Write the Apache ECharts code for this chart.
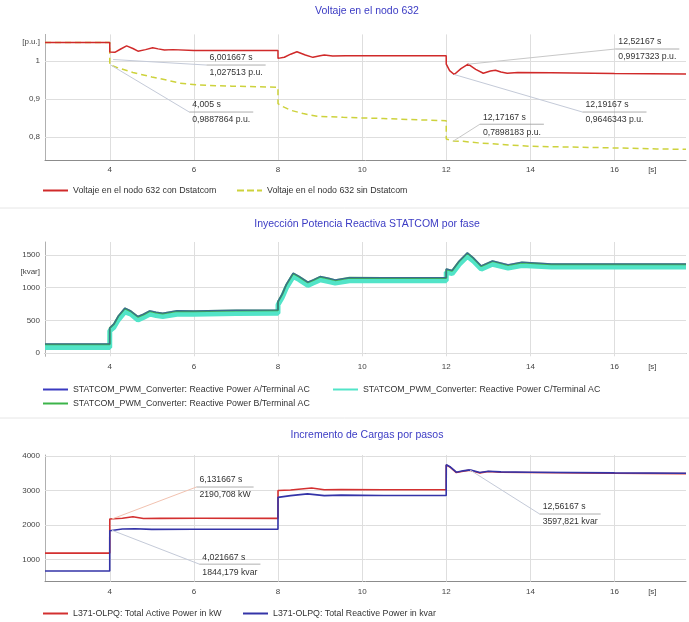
<!DOCTYPE html>
<html><head><meta charset="utf-8">
<script src="https://cdn.jsdelivr.net/npm/echarts@6/dist/echarts.min.js"></script>
<style>html,body{margin:0;padding:0;background:#fff}#c{width:689px;height:622px}</style>
</head><body><div id="c"></div>
<script>
// ---------- Data: Voltaje en el nodo 632 ----------
const voltConT = [2.46, 3.999, 4.0, 4.12, 4.25, 4.4, 4.55, 4.67, 4.85, 5.02, 5.15, 5.3, 5.5, 6.0, 7.0, 7.999, 8.0, 8.15, 8.3, 8.45, 8.65, 8.83, 9.0, 9.1, 9.3, 9.6, 10.5, 11.999, 12.0, 12.08, 12.19, 12.35, 12.52, 12.7, 12.88, 13.05, 13.17, 13.3, 13.45, 13.7, 14.5, 16, 17.7];
const voltConV = [1.049, 1.049, 1.024, 1.023, 1.031, 1.040, 1.033, 1.026, 1.030, 1.035, 1.032, 1.029, 1.030, 1.0275, 1.028, 1.028, 1.007, 1.010, 1.018, 1.0245, 1.016, 1.0097, 1.014, 1.016, 1.013, 1.014, 1.014, 1.014, 0.992, 0.975, 0.9646, 0.980, 0.9917, 0.978, 0.968, 0.974, 0.976, 0.971, 0.968, 0.970, 0.969, 0.967, 0.966];
const voltSinT = [2.46, 3.999, 4.0, 4.005, 4.2, 4.55, 5.0, 5.35, 5.67, 6.1, 6.9, 7.999, 8.0, 8.05, 8.29, 8.6, 8.93, 9.55, 10.5, 11.999, 12.0, 12.17, 12.4, 12.76, 13.3, 14, 15, 15.9, 17, 17.7];
const voltSinV = [1.049, 1.049, 0.990, 0.9888, 0.982, 0.970, 0.958, 0.950, 0.942, 0.937, 0.934, 0.931, 0.888, 0.884, 0.871, 0.862, 0.855, 0.852, 0.849, 0.843, 0.795, 0.7898, 0.789, 0.785, 0.781, 0.776, 0.774, 0.772, 0.769, 0.768];

// ---------- Data: STATCOM reactive power per phase ----------
const qT = [2.46, 3.999, 4.0, 4.1, 4.2, 4.36, 4.5, 4.67, 4.8, 4.95, 5.1, 5.26, 5.6, 6.0, 7.0, 7.999, 8.0, 8.1, 8.2, 8.36, 8.5, 8.71, 8.85, 9.0, 9.2, 9.36, 9.7, 10.5, 11.999, 12.0, 12.14, 12.3, 12.5, 12.65, 12.83, 13.1, 13.47, 13.8, 14.5, 16, 17.7];
const qPhaseA = [140, 140, 385, 448, 565, 690, 645, 560, 595, 648, 625, 612, 648, 646, 655, 660, 790, 905, 1055, 1225, 1175, 1086, 1126, 1172, 1146, 1121, 1156, 1156, 1156, 1290, 1266, 1405, 1536, 1455, 1336, 1412, 1352, 1392, 1366, 1365, 1365];
const qPhaseB = [135, 135, 382, 443, 560, 683, 640, 555, 590, 642, 620, 607, 642, 640, 650, 655, 785, 900, 1050, 1219, 1170, 1081, 1120, 1167, 1140, 1116, 1151, 1150, 1150, 1284, 1261, 1400, 1530, 1450, 1330, 1407, 1346, 1387, 1361, 1360, 1360];
const qPhaseC = [85, 85, 340, 395, 505, 630, 595, 505, 545, 595, 575, 560, 595, 595, 605, 610, 740, 850, 1000, 1170, 1125, 1035, 1075, 1120, 1095, 1070, 1105, 1105, 1105, 1240, 1215, 1350, 1480, 1405, 1285, 1360, 1300, 1340, 1318, 1318, 1318];

// ---------- Data: Incremento de cargas ----------
const pT = [2.46, 3.999, 4.0, 4.3, 4.55, 4.8, 5.2, 6.13, 7.999, 8.0, 8.3, 8.8, 9.1, 9.5, 10.5, 11.999, 12.0, 12.1, 12.24, 12.4, 12.56, 12.8, 13.0, 13.3, 14, 16, 17.7];
const pKW = [1180, 1180, 2170, 2195, 2235, 2185, 2190, 2191, 2190, 3000, 3015, 3070, 3020, 3030, 3020, 3020, 3740, 3670, 3520, 3560, 3590, 3510, 3550, 3530, 3520, 3500, 3490];
const qLT = [2.46, 3.999, 4.0, 4.021, 4.3, 4.6, 5.0, 6.0, 7.999, 8.0, 8.3, 8.7, 9.1, 9.5, 10.5, 11.999, 12.0, 12.1, 12.24, 12.4, 12.56, 12.8, 13.0, 13.3, 14, 16, 17.7];
const qLkvar = [660, 660, 1830, 1844, 1880, 1890, 1870, 1875, 1875, 2800, 2850, 2900, 2850, 2865, 2855, 2855, 3750, 3680, 3530, 3570, 3598, 3520, 3560, 3540, 3530, 3510, 3500];

// ---------- Tick labels ----------
const xTicks = [4, 6, 8, 10, 12, 14, 16];
const xUnit = {at: 16.9, text: '[s]'};
const topYTicks = [[0.8, '0,8'], [0.9, '0,9'], [1.0, '1'], [1.05, '[p.u.]']];
const midYTicks = [[0, '0'], [500, '500'], [1000, '1000'], [1500, '1500'], [1250, '[kvar]']];
const botYTicks = [[1000, '1000'], [2000, '2000'], [3000, '3000'], [4000, '4000']];
const topGridY = [0.8, 0.9, 1.0];
const midGridY = [0, 500, 1000, 1500];
const botGridY = [1000, 2000, 3000, 4000];

// ---------- Value labels (text), their points and label anchors ----------
const noteText = [
  ['6,001667 s', '1,027513 p.u.'],
  ['4,005 s', '0,9887864 p.u.'],
  ['12,52167 s', '0,9917323 p.u.'],
  ['12,19167 s', '0,9646343 p.u.'],
  ['12,17167 s', '0,7898183 p.u.'],
  ['6,131667 s', '2190,708 kW'],
  ['4,021667 s', '1844,179 kvar'],
  ['12,56167 s', '3597,821 kvar']
];
const notePoint = [[4.08, 1.004], [4.03, 0.989], [12.52, 0.9917], [12.19, 0.9646], [12.17, 0.7898], [4.05, 2170], [4.05, 1844], [12.56, 3598]];
const noteAnchor = [[6.30, 0.9895], [5.89, 0.866], [16.02, 1.0316], [15.24, 0.866], [12.80, 0.834], [6.06, 3100], [6.13, 860], [14.22, 2316]];
const noteGrid = [0, 0, 0, 0, 0, 2, 2, 2];
const noteColor = ['#c4cad8', '#c4cad8', '#c8c8c8', '#c4cad8', '#c8c8c8', '#f2c2b0', '#c4cad8', '#c4cad8'];

// ---------- Chart ----------
const FONT = '"Liberation Sans", Arial, sans-serif';
const NOTE_FONT = '8.7px "Liberation Sans", Arial, sans-serif';
const chart = echarts.init(document.getElementById('c'), null, {renderer: 'canvas'});
const zip = (t, v) => t.map((x, i) => [x, v[i]]);
const near = (a, b) => Math.abs(a - b) < 1e-6;

function xFmt(v) {
  for (const t of xTicks) if (near(v, t)) return String(t);
  if (near(v, xUnit.at)) return xUnit.text;
  return '';
}
function yFmt(list) {
  return v => { for (const [val, txt] of list) if (near(v, val)) return txt; return ''; };
}
const labelStyle = {fontSize: 8, color: '#444', fontFamily: FONT};
function xAx(i) {
  return {type: 'value', gridIndex: i, min: 2.46, max: 17.7, interval: 0.02,
    axisLine: {show: true, lineStyle: {color: '#8c8c8c'}}, axisTick: {show: false}, splitLine: {show: false},
    axisLabel: Object.assign({margin: 6, formatter: xFmt}, labelStyle)};
}
function yAx(i, min, max, interval, ticks) {
  return {type: 'value', gridIndex: i, min, max, interval,
    axisLine: {show: true, lineStyle: {color: '#b0b0b0'}}, axisTick: {show: false}, splitLine: {show: false},
    axisLabel: Object.assign({margin: 5, formatter: yFmt(ticks)}, labelStyle)};
}
function gridLines(i, ys) {
  return {type: 'line', xAxisIndex: i, yAxisIndex: i, data: [], z: 1, silent: true,
    markLine: {silent: true, z: 1, symbol: 'none', animation: false, label: {show: false},
      lineStyle: {color: '#dedede', width: 1, type: 'solid'},
      data: ys.map(y => ({yAxis: y})).concat(xTicks.map(x => ({xAxis: x})))}};
}
function line(name, i, data, color, width, extra) {
  return Object.assign({name, type: 'line', xAxisIndex: i, yAxisIndex: i, data, symbol: 'none', showSymbol: false,
    animation: false, lineStyle: {color, width}, itemStyle: {color}}, extra || {});
}
const titleStyle = {fontSize: 10.5, fontWeight: 'normal', color: '#3b3bc4', fontFamily: FONT};
const SOLID = 'path://M0,0M25,8M0,3h25v2h-25z';
const DASHED = 'path://M0,0M25,8M0,3h7v2h-7zM10,3h7v2h-7zM20,3h5v2h-5z';
const legBase = {padding: 0, itemWidth: 25, itemHeight: 8, itemGap: 0, selectedMode: false,
  textStyle: {fontSize: 8.8, color: '#333', fontFamily: FONT}};
const L = (name, icon, left, top) => Object.assign({data: [{name, icon}], left, top}, legBase);

const N1 = 'Voltaje en el nodo 632 con Dstatcom', N2 = 'Voltaje en el nodo 632 sin Dstatcom';
const NA = 'STATCOM_PWM_Converter: Reactive Power A/Terminal AC';
const NB = 'STATCOM_PWM_Converter: Reactive Power B/Terminal AC';
const NC = 'STATCOM_PWM_Converter: Reactive Power C/Terminal AC';
const NP = 'L371-OLPQ: Total Active Power in kW', NQ = 'L371-OLPQ: Total Reactive Power in kvar';

chart.setOption({
  animation: false,
  backgroundColor: '#fff',
  title: [
    {text: 'Voltaje en el nodo 632', left: 367, top: 6, textAlign: 'center', padding: 0, textStyle: titleStyle},
    {text: 'Inyección Potencia Reactiva STATCOM por fase', left: 367, top: 219, textAlign: 'center', padding: 0, textStyle: titleStyle},
    {text: 'Incremento de Cargas por pasos', left: 367, top: 430, textAlign: 'center', padding: 0, textStyle: titleStyle}
  ],
  grid: [
    {left: 45, right: 0, top: 34.4, bottom: 462},
    {left: 45, right: 0, top: 242, bottom: 265.7},
    {left: 45, right: 0, top: 455, bottom: 40.3}
  ],
  xAxis: [xAx(0), xAx(1), xAx(2)],
  yAxis: [
    yAx(0, 0.74, 1.07, 0.01, topYTicks),
    yAx(1, -50, 1700, 50, midYTicks),
    yAx(2, 350, 4030, 50, botYTicks)
  ],
  legend: [
    L(N1, SOLID, 43, 186), L(N2, DASHED, 237, 186),
    L(NA, SOLID, 43, 385), L(NC, SOLID, 333, 385), L(NB, SOLID, 43, 399),
    L(NP, SOLID, 43, 609), L(NQ, SOLID, 243, 609)
  ],
  series: [
    gridLines(0, topGridY), gridLines(1, midGridY), gridLines(2, botGridY),
    line(N2, 0, zip(voltSinT, voltSinV), '#cdd23c', 1.5, {lineStyle: {color: '#cdd23c', width: 1.5, type: [6, 4]}, z: 3}),
    line(N1, 0, zip(voltConT, voltConV), '#d02a2a', 1.5, {z: 4}),
    line(NC, 1, zip(qT, qPhaseC), '#52e4c8', 5, {z: 3}),
    line(NB, 1, zip(qT, qPhaseB), '#3cb44a', 2, {z: 4}),
    line(NA, 1, zip(qT, qPhaseA), '#3a3ac0', 1.3, {z: 5, lineStyle: {color: '#3a3ac0', width: 1.3, opacity: 0.6}}),
    line(NP, 2, zip(pT, pKW), '#d33030', 1.6, {z: 3}),
    line(NQ, 2, zip(qLT, qLkvar), '#3434a8', 1.6, {z: 4})
  ]
});

// value-label graphics placed through the chart's own coordinate conversion
const ctx = document.createElement('canvas').getContext('2d');
ctx.font = NOTE_FONT;
const graphics = [
  {type: 'line', shape: {x1: 0, y1: 208, x2: 689, y2: 208}, style: {stroke: '#e6e6e6', lineWidth: 1}, silent: true},
  {type: 'line', shape: {x1: 0, y1: 418, x2: 689, y2: 418}, style: {stroke: '#e6e6e6', lineWidth: 1}, silent: true}
];
noteText.forEach((txt, k) => {
  const g = noteGrid[k];
  const p = chart.convertToPixel({gridIndex: g}, notePoint[k]);
  const a = chart.convertToPixel({gridIndex: g}, noteAnchor[k]);
  const w = Math.max(ctx.measureText(txt[0]).width, ctx.measureText(txt[1]).width) + 6;
  graphics.push({type: 'line', z: 10, silent: true, shape: {x1: p[0], y1: p[1], x2: a[0], y2: a[1]}, style: {stroke: noteColor[k], lineWidth: 1}});
  graphics.push({type: 'line', z: 10, silent: true, shape: {x1: a[0], y1: a[1], x2: a[0] + w, y2: a[1]}, style: {stroke: '#9a9a9a', lineWidth: 0.8}});
  graphics.push({type: 'text', z: 11, silent: true, x: a[0] + 3, y: a[1] - 7, style: {text: txt[0], fill: '#333', font: NOTE_FONT, verticalAlign: 'middle', textVerticalAlign: 'middle'}});
  graphics.push({type: 'text', z: 11, silent: true, x: a[0] + 3, y: a[1] + 8, style: {text: txt[1], fill: '#333', font: NOTE_FONT, verticalAlign: 'middle', textVerticalAlign: 'middle'}});
});
chart.setOption({graphic: graphics});
</script>
</body></html>
